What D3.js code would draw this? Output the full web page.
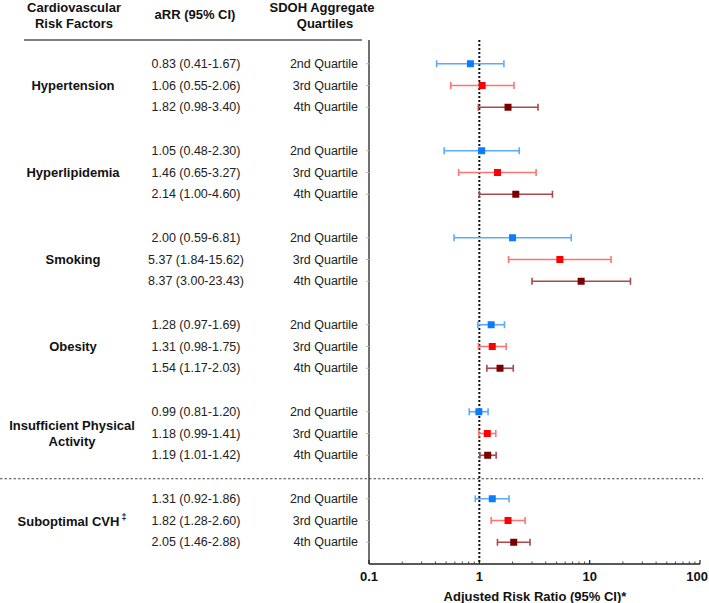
<!DOCTYPE html>
<html>
<head>
<meta charset="utf-8">
<script src="https://cdn.jsdelivr.net/npm/d3@7"></script>
<style>
  html, body { margin: 0; padding: 0; background: #fff; }
  svg { display: block; font-family: "Liberation Sans", Arial, sans-serif; }
</style>
</head>
<body>
<div id="chart"></div>
<script>
const factors = ["Hypertension", "Hyperlipidemia", "Smoking", "Obesity", "Insufficient Physical Activity", "Suboptimal CVH"];
const quartiles = ["2nd Quartile", "3rd Quartile", "4th Quartile"];
const estimates = [
  [0.83, 1.06, 1.82],
  [1.05, 1.46, 2.14],
  [2.00, 5.37, 8.37],
  [1.28, 1.31, 1.54],
  [0.99, 1.18, 1.19],
  [1.31, 1.82, 2.05]
];
const lowers = [
  [0.41, 0.55, 0.98],
  [0.48, 0.65, 1.00],
  [0.59, 1.84, 3.00],
  [0.97, 0.98, 1.17],
  [0.81, 0.99, 1.01],
  [0.92, 1.28, 1.46]
];
const uppers = [
  [1.67, 2.06, 3.40],
  [2.30, 3.27, 4.60],
  [6.81, 15.62, 23.43],
  [1.69, 1.75, 2.03],
  [1.20, 1.41, 1.42],
  [1.86, 2.60, 2.88]
];
const xTicks = [0.1, 1, 10, 100];
const xTickLabels = ["0.1", "1", "10", "100"];

const markerColors = ["#0a7cff", "#ff0000", "#7a0000"];
const barColors = ["#5aabff", "#ff7373", "#a64a4a"];

const W = 709, H = 603;
const svg = d3.select("#chart").append("svg").attr("width", W).attr("height", H);

const x = d3.scaleLog().domain([0.1, 100]).range([369, 700]);
const y = d3.scaleLinear().domain([-1, 23]).range([42, 564]);

// flatten rows
const rows = [];
factors.forEach((f, gi) => {
  quartiles.forEach((q, qi) => {
    const est = estimates[gi][qi], lo = lowers[gi][qi], hi = uppers[gi][qi];
    rows.push({ gi, qi, slot: gi * 4 + qi, est, lo, hi, q });
  });
});

// header
const hdr = svg.append("g").attr("font-weight", "bold").attr("font-size", 13).attr("fill", "#111").attr("text-anchor", "middle");
hdr.append("text").attr("x", 74).attr("y", 7).attr("dominant-baseline", "central").text("Cardiovascular");
hdr.append("text").attr("x", 74).attr("y", 23).attr("dominant-baseline", "central").text("Risk Factors");
hdr.append("text").attr("x", 195).attr("y", 14).attr("dominant-baseline", "central").text("aRR (95% CI)");
hdr.append("text").attr("x", 322).attr("y", 7).attr("dominant-baseline", "central").text("SDOH Aggregate");
hdr.append("text").attr("x", 325).attr("y", 23).attr("dominant-baseline", "central").text("Quartiles");

svg.append("line").attr("x1", 24).attr("x2", 362).attr("y1", 40).attr("y2", 40)
  .attr("stroke", "#555").attr("stroke-width", 1.3);

// group labels
const gl = svg.append("g").attr("font-weight", "bold").attr("font-size", 13).attr("fill", "#111").attr("text-anchor", "middle");
factors.forEach((f, gi) => {
  const cy = y(gi * 4 + 1);
  if (f === "Insufficient Physical Activity") {
    gl.append("text").attr("x", 72).attr("y", cy - 8).attr("dominant-baseline", "central").text("Insufficient Physical");
    gl.append("text").attr("x", 72).attr("y", cy + 8).attr("dominant-baseline", "central").text("Activity");
  } else if (f === "Suboptimal CVH") {
    const t = gl.append("text").attr("x", 72).attr("y", cy).attr("dominant-baseline", "central");
    t.append("tspan").text(f);
    t.append("tspan").attr("font-size", 9).attr("dy", -4).attr("dx", 2).text("‡");
  } else {
    gl.append("text").attr("x", 73).attr("y", cy).attr("dominant-baseline", "central").text(f);
  }
});

// aRR and quartile text
const fmt = d3.format(".2f");
const tx = svg.append("g").attr("font-size", 12.5).attr("fill", "#222");
tx.selectAll("text.arr").data(rows).join("text").attr("class", "arr")
  .attr("x", 196).attr("y", d => y(d.slot)).attr("text-anchor", "middle").attr("dominant-baseline", "central")
  .text(d => `${fmt(d.est)} (${fmt(d.lo)}-${fmt(d.hi)})`);
tx.selectAll("text.q").data(rows).join("text").attr("class", "q")
  .attr("x", 358).attr("y", d => y(d.slot)).attr("text-anchor", "end").attr("dominant-baseline", "central")
  .text(d => d.q);

// separator dashed line
svg.append("line").attr("x1", 0).attr("x2", 703).attr("y1", y(19.08)).attr("y2", y(19.08))
  .attr("stroke", "#444").attr("stroke-width", 1).attr("stroke-dasharray", "2.5,2");

// left axis
svg.append("line").attr("x1", 369).attr("x2", 369).attr("y1", 40).attr("y2", 564).attr("stroke", "#222").attr("stroke-width", 1.3);
svg.selectAll("line.ytick").data(rows).join("line").attr("class", "ytick")
  .attr("x1", 366).attr("x2", 369).attr("y1", d => y(d.slot)).attr("y2", d => y(d.slot))
  .attr("stroke", "#bbb").attr("stroke-width", 1);

// bottom axis
const xAxisG = svg.append("g").attr("transform", `translate(0,${y(23)})`);
xAxisG.append("line").attr("x1", 369).attr("x2", 700).attr("y1", 0).attr("y2", 0).attr("stroke", "#222").attr("stroke-width", 1.3);
const minor = [];
for (let dec = 0.1; dec < 100; dec *= 10) {
  for (let k = 2; k <= 9; k++) minor.push(+(dec * k).toPrecision(3));
}
xAxisG.selectAll("line.minor").data(minor).join("line").attr("class", "minor")
  .attr("x1", d => x(d)).attr("x2", d => x(d)).attr("y1", 0).attr("y2", -2.5)
  .attr("stroke", "#444").attr("stroke-width", 1);
xAxisG.selectAll("line.major").data(xTicks).join("line").attr("class", "major")
  .attr("x1", d => x(d)).attr("x2", d => x(d)).attr("y1", 0).attr("y2", -4)
  .attr("stroke", "#222").attr("stroke-width", 1.2);
xAxisG.selectAll("text").data(xTicks).join("text")
  .attr("x", d => d === 100 ? 708 : x(d)).attr("y", 12)
  .attr("text-anchor", d => d === 100 ? "end" : "middle").attr("dominant-baseline", "central")
  .attr("font-weight", "bold").attr("font-size", 13).attr("fill", "#111")
  .text((d, i) => xTickLabels[i]);

svg.append("text").attr("x", 535).attr("y", 596).attr("text-anchor", "middle").attr("dominant-baseline", "central")
  .attr("font-weight", "bold").attr("font-size", 13).attr("fill", "#111").text("Adjusted Risk Ratio (95% CI)*");

// reference line at 1
svg.append("line").attr("x1", x(1)).attr("x2", x(1)).attr("y1", 40).attr("y2", 564)
  .attr("stroke", "#111").attr("stroke-width", 2).attr("stroke-dasharray", "2,2");

// error bars
const eb = svg.append("g");
eb.selectAll("line.ci").data(rows).join("line").attr("class", "ci")
  .attr("x1", d => x(d.lo)).attr("x2", d => x(d.hi)).attr("y1", d => y(d.slot)).attr("y2", d => y(d.slot))
  .attr("stroke", d => barColors[d.qi]).attr("stroke-width", 1.6);
eb.selectAll("line.capl").data(rows).join("line").attr("class", "capl")
  .attr("x1", d => x(d.lo)).attr("x2", d => x(d.lo)).attr("y1", d => y(d.slot) - 3.5).attr("y2", d => y(d.slot) + 3.5)
  .attr("stroke", d => barColors[d.qi]).attr("stroke-width", 1.6);
eb.selectAll("line.caph").data(rows).join("line").attr("class", "caph")
  .attr("x1", d => x(d.hi)).attr("x2", d => x(d.hi)).attr("y1", d => y(d.slot) - 3.5).attr("y2", d => y(d.slot) + 3.5)
  .attr("stroke", d => barColors[d.qi]).attr("stroke-width", 1.6);
eb.selectAll("rect").data(rows).join("rect")
  .attr("x", d => x(d.est) - 3.5).attr("y", d => y(d.slot) - 3.5).attr("width", 7).attr("height", 7)
  .attr("fill", d => markerColors[d.qi]);
</script>
</body>
</html>
